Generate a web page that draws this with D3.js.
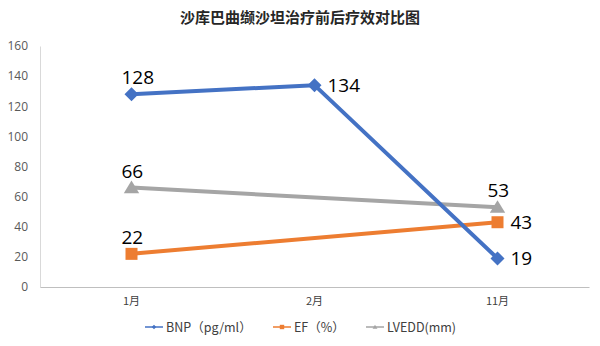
<!DOCTYPE html>
<html><head><meta charset="utf-8">
<script src="https://cdn.jsdelivr.net/npm/d3@7"></script>
<style>body{margin:0;background:#fff}svg{display:block}</style>
</head><body><svg id="c" width="600" height="346"></svg>
<script>
const categories = ["1月", "2月", "11月"];
const bnp = [128, 134, 19];
const ef = [22, null, 43];
const lvedd = [66, null, 53];
const yTicks = [0, 20, 40, 60, 80, 100, 120, 140, 160];
const seriesNames = ["BNP（pg/ml）", "EF（%）", "LVEDD(mm)"];
const seriesColors = ["#4472C4", "#ED7D31", "#A5A5A5"];

const series = [
  {name: seriesNames[0], values: bnp, pos: ["top","right","right"], color: seriesColors[0], marker: "diamond"},
  {name: seriesNames[1], values: ef, pos: ["top", null, "right"], color: seriesColors[1], marker: "square"},
  {name: seriesNames[2], values: lvedd, pos: ["top", null, "top"], color: seriesColors[2], marker: "triangle"}
];

const svg = d3.select("#c");
const x = d3.scaleBand().domain(categories).range([40, 589]);
const y = d3.scaleLinear().domain([0, 160]).range([287, 46]);
const font = "'Open Sans','Noto Sans',sans-serif";

svg.append("text").attr("x", 300).attr("y", 23).attr("text-anchor", "middle")
  .attr("font-family", "'Noto Sans CJK SC',sans-serif").attr("font-weight", "bold")
  .attr("font-size", 15).attr("fill", "#262626").text("沙库巴曲缬沙坦治疗前后疗效对比图");

// y axis
const ya = svg.append("g").attr("transform", "translate(40,0)")
  .call(d3.axisLeft(y).tickValues(yTicks).tickSize(0).tickPadding(12));
ya.select(".domain").attr("stroke", "#D9D9D9");
ya.selectAll("text").attr("font-family", font).attr("font-size", 12).attr("fill", "#595959");

// x axis
const xa = svg.append("g").attr("transform", "translate(0,287)")
  .call(d3.axisBottom(x).tickSize(0).tickPadding(10));
xa.select(".domain").attr("stroke", "#BFBFBF").attr("stroke-width", 1.2);
xa.selectAll("text").attr("font-family", "'Noto Sans CJK SC',sans-serif").attr("font-size", 11).attr("fill", "#404040");

const cx = c => x(c) + x.bandwidth() / 2;

function markerPath(type, r) {
  if (type === "diamond") return `M0,${-r}L${r},0L0,${r}L${-r},0Z`;
  if (type === "square") return `M${-r},${-r}H${r}V${r}H${-r}Z`;
  return `M0,${-r}L${r*1.1},${r*0.8}H${-r*1.1}Z`;
}
const markerR = {diamond: 7, square: 6, triangle: 7};

[2, 1, 0].forEach(i => {
  const s = series[i];
  const idx = s.values.map((v, k) => v == null ? null : k).filter(k => k != null);
  svg.append("path")
    .attr("d", d3.line().x(k => cx(categories[k])).y(k => y(s.values[k]))(idx))
    .attr("fill", "none").attr("stroke", s.color).attr("stroke-width", 4).attr("stroke-linejoin", "round");
  idx.forEach(k => {
    svg.append("path").attr("d", markerPath(s.marker, markerR[s.marker]))
      .attr("transform", `translate(${cx(categories[k])},${y(s.values[k])})`)
      .attr("fill", s.color);
  });
});

series.forEach(s => {
  s.values.forEach((v, k) => {
    if (v == null) return;
    const px = cx(categories[k]), py = y(v);
    const t = svg.append("text").attr("font-family", font).attr("font-size", 19).attr("fill", "#000").text(String(v));
    if (s.pos[k] === "top") t.attr("x", px - 10).attr("y", py - 10);
    else t.attr("x", px + 13).attr("y", py + 7);
  });
});

// legend
const legX = [145, 273, 366];
series.forEach((s, i) => {
  const g = svg.append("g").attr("transform", `translate(${legX[i]},327)`);
  g.append("line").attr("x1", 0).attr("x2", 18).attr("stroke", s.color).attr("stroke-width", 1.5);
  g.append("path").attr("d", markerPath(s.marker, 2.2))
    .attr("transform", "translate(9,0)").attr("fill", s.color);
  g.append("text").attr("x", 21).attr("y", 5).attr("font-family", "'Noto Sans CJK SC',sans-serif")
    .attr("font-size", 12.5).attr("fill", "#404040").text(s.name);
});
</script></body></html>
